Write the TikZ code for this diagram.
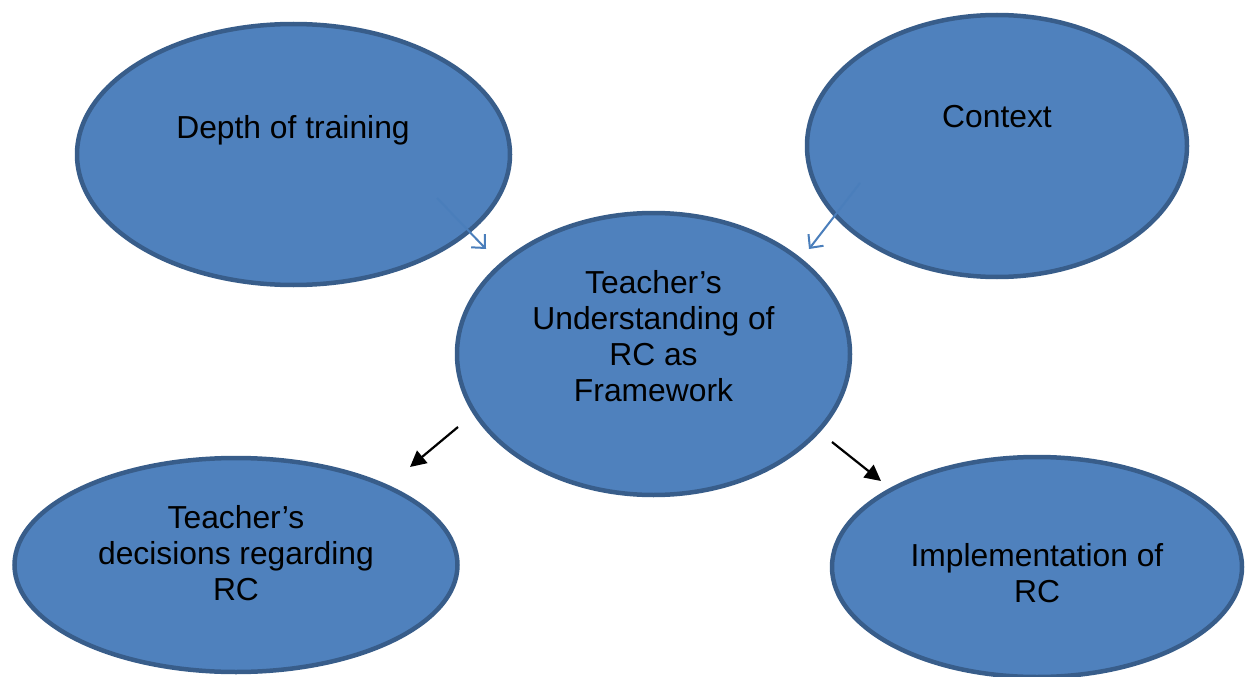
\documentclass[tikz,border=0pt]{standalone}
\usepackage{fontspec}
\setmainfont{Liberation Sans}
\usetikzlibrary{shapes.geometric,arrows.meta}
\definecolor{bubblefill}{HTML}{4F81BD}
\definecolor{bubbleline}{HTML}{385D8A}
\definecolor{thinblue}{HTML}{4A7EBB}
\tikzset{
  bubble/.style={ellipse, draw=bubbleline, fill=bubblefill, line width=4.5pt, inner sep=0pt},
  txt/.style={align=center, font=\fontsize{31.8}{36}\selectfont, inner sep=0pt},
  softarrow/.style={draw=thinblue, line width=2pt, -{Straight Barb[length=10pt,width=19pt,line width=2pt]}},
  blackarrow/.style={draw=black, line width=2.2pt, -{Triangle[length=16pt,width=16pt]}}
}
\begin{document}
\begin{tikzpicture}[x=1pt,y=-1pt]
\useasboundingbox (0,0) rectangle (1251,677);
% the five ellipses
\node[bubble, minimum width=433pt, minimum height=261pt] (depth) at (293.5,154.5) {};
\node[bubble, minimum width=380pt, minimum height=262pt] (context) at (997,146) {};
\node[bubble, minimum width=393pt, minimum height=282pt] (understand) at (653.5,354) {};
\node[bubble, minimum width=443pt, minimum height=214pt] (decide) at (236,565) {};
\node[bubble, minimum width=410pt, minimum height=220pt] (impl) at (1037,567) {};
% labels
\node[txt] (tdepth) at (293,130) {Depth of training};
\node[txt] (tcontext) at (997,117) {Context};
\node[txt] (tunder) at (653.5,336) {Teacher’s\\Understanding of\\RC as\\Framework};
\node[txt] (tdecide) at (236,553) {Teacher’s\\decisions regarding\\RC};
\node[txt] (timpl) at (1037,573) {Implementation of\\RC};
% connectors
\coordinate (a1s) at (437,198);
\coordinate (a1e) at (486,249);
\coordinate (a2s) at (860,183);
\coordinate (a2e) at (809,249);
\coordinate (b1s) at (458,427);
\coordinate (b1e) at (410,467);
\coordinate (b2s) at (832,442);
\coordinate (b2e) at (881,481);
\draw[softarrow] (a1s) -- (a1e);
\draw[softarrow] (a2s) -- (a2e);
\draw[blackarrow] (b1s) -- (b1e);
\draw[blackarrow] (b2s) -- (b2e);
\end{tikzpicture}
\end{document}
